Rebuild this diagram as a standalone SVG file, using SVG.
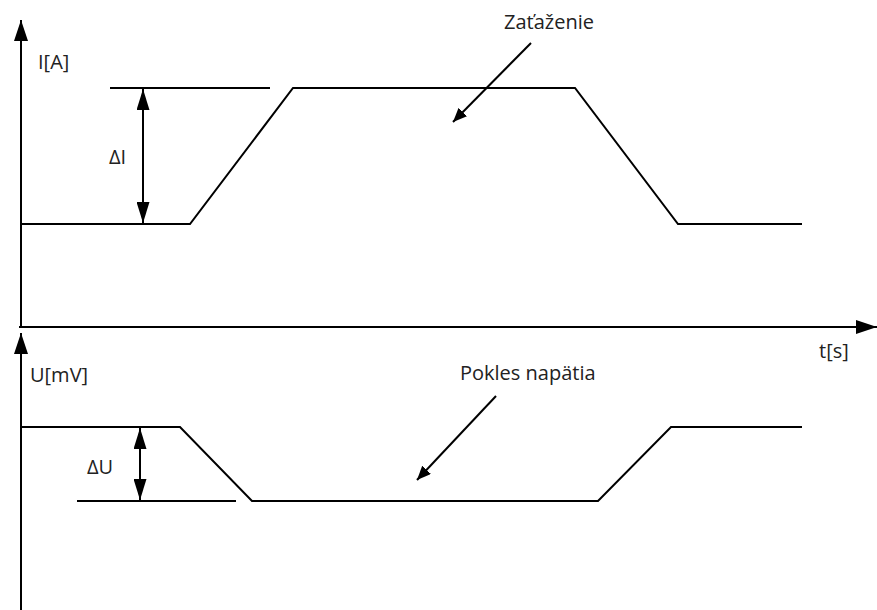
<svg xmlns="http://www.w3.org/2000/svg" width="877" height="610" viewBox="0 0 877 610">
<style>
.ln{fill:none;stroke:#000;stroke-width:2;stroke-linejoin:miter}
.tx{font-family:"Open Sans","Liberation Sans",sans-serif;font-size:20px;fill:#222}
</style>
<defs>
<marker id="ax" markerUnits="userSpaceOnUse" markerWidth="22" markerHeight="14" refX="21" refY="7" orient="auto"><path d="M0,0 L21,7 L0,14 z" fill="#000"/></marker>
<marker id="dim" markerUnits="userSpaceOnUse" markerWidth="21" markerHeight="13" refX="21" refY="6.5" orient="auto-start-reverse"><path d="M0,0 L21,6.5 L0,13 z" fill="#000"/></marker>
<marker id="ptr" markerUnits="userSpaceOnUse" markerWidth="14" markerHeight="12" refX="14" refY="6" orient="auto"><path d="M0,0 L14,6 L0,12 z" fill="#000"/></marker>
</defs>
<g id="axes">
<line class="ln" x1="21" y1="327" x2="21" y2="20" marker-end="url(#ax)"/>
<line class="ln" x1="19" y1="327" x2="877" y2="327" marker-end="url(#ax)"/>
<line class="ln" x1="21" y1="610" x2="21" y2="333" marker-end="url(#ax)"/>
</g>
<g id="current-trace">
<polyline class="ln" points="21,224 190,224 293,88 575,88 678,224 802,224"/>
<line class="ln" x1="110" y1="88" x2="270" y2="88"/>
</g>
<g id="voltage-trace">
<polyline class="ln" points="21,427 180,427 252,501 598,501 671,427 802,427"/>
<line class="ln" x1="77" y1="501" x2="236" y2="501"/>
</g>
<g id="connectors">
<line class="ln" x1="143" y1="89" x2="143" y2="223" marker-start="url(#dim)" marker-end="url(#dim)"/>
<line class="ln" x1="140" y1="428" x2="140" y2="500" marker-start="url(#dim)" marker-end="url(#dim)"/>
<line class="ln" x1="531" y1="43" x2="453" y2="122" marker-end="url(#ptr)"/>
<line class="ln" x1="496" y1="396" x2="417" y2="480" marker-end="url(#ptr)"/>
</g>
<g id="labels">
<text class="tx" x="38" y="69">I[A]</text>
<text class="tx" x="109" y="164">ΔI</text>
<text class="tx" x="504" y="29">Zaťaženie</text>
<text class="tx" x="819" y="358">t[s]</text>
<text class="tx" x="30" y="382">U[mV]</text>
<text class="tx" x="87" y="474">ΔU</text>
<text class="tx" x="460" y="380">Pokles napätia</text>
</g>
</svg>
